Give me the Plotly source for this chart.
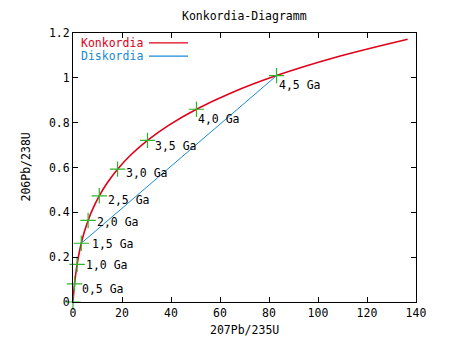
import plotly.graph_objects as go

# Concordia curve (207Pb/235U, 206Pb/238U), read at 0.25 Ga steps from 0 to 5.0 Ga
konk_x = [0.0, 0.279, 0.636, 1.093, 1.677, 2.425, 3.381, 4.604, 6.168, 8.170,
          10.73, 14.01, 18.19, 23.55, 30.41, 39.17, 50.39, 64.73, 83.09, 106.56, 136.59]
konk_y = [0.0, 0.0395, 0.0807, 0.1234, 0.1678, 0.2140, 0.2620, 0.3119, 0.3638, 0.4177,
          0.4737, 0.5320, 0.5926, 0.6556, 0.7211, 0.7892, 0.8599, 0.9335, 1.0099, 1.0894, 1.1719]

# Marked ages (every 0.5 Ga)
age_x = [0.0, 0.636, 1.677, 3.381, 6.168, 10.73, 18.19, 30.41, 50.39, 83.09]
age_y = [0.0, 0.0807, 0.1678, 0.2620, 0.3638, 0.4737, 0.5926, 0.7211, 0.8599, 1.0099]
age_labels = ["", "0,5 Ga", "1,0 Ga", "1,5 Ga", "2,0 Ga", "2,5 Ga", "3,0 Ga", "3,5 Ga", "4,0 Ga", "4,5 Ga"]

# Discordia line (from 1.5 Ga to 4.5 Ga)
disk_x = [3.381, 83.09]
disk_y = [0.2620, 1.0099]

x_ticks = [0, 20, 40, 60, 80, 100, 120, 140]
y_ticks = [0, 0.2, 0.4, 0.6, 0.8, 1.0, 1.2]
y_tick_text = ["0", "0.2", "0.4", "0.6", "0.8", "1", "1.2"]

# label anchor positions (data coords)
label_pos_x = [None, 2.69, 4.6, 7.05, 8.96, 13.45, 20.9, 32.6, 50.2, 83.3]
label_pos_y = [None, 0.058, 0.167, 0.258, 0.359, 0.457, 0.577, 0.697, 0.816, 0.970]

RED = "#e0001a"
BLUE = "#1a8ad4"
GREEN = "#2db52d"
FONT = "DejaVu Sans Mono"
FS = 11.5

L, R, T, B = 73, 38, 33, 39
W, H = 454, 341
pw, ph = W - L - R, H - T - B


def px(xp):
    return (xp - L) / pw


def py(yp):
    return (H - B - yp) / ph


fig = go.Figure()
fig.add_trace(go.Scatter(x=konk_x, y=konk_y, mode="lines",
                         line=dict(color=RED, width=1.6, shape="spline"), showlegend=False))
fig.add_trace(go.Scatter(x=disk_x, y=disk_y, mode="lines",
                         line=dict(color=BLUE, width=1), showlegend=False))
fig.add_trace(go.Scatter(x=age_x, y=age_y, mode="markers", cliponaxis=False,
                         marker=dict(symbol="cross-thin", size=11,
                                     line=dict(color=GREEN, width=1.2)),
                         showlegend=False))

annotations = []
for lx, ly, t in zip(label_pos_x, label_pos_y, age_labels):
    if not t:
        continue
    annotations.append(dict(x=lx, y=ly, xref="x", yref="y", text=t, showarrow=False,
                            xanchor="left", yanchor="middle",
                            font=dict(family=FONT, size=FS, color="black")))

txtfont = dict(family=FONT, size=FS, color="black")
annotations.append(dict(x=0.5, y=py(16), xref="paper", yref="paper", text="Konkordia-Diagramm",
                        showarrow=False, yanchor="middle", font=txtfont))
annotations.append(dict(x=0.5, y=py(329.5), xref="paper", yref="paper", text="207Pb/235U",
                        showarrow=False, yanchor="middle", font=txtfont))
annotations.append(dict(x=px(25), y=0.5, xref="paper", yref="paper", text="206Pb/238U",
                        showarrow=False, xanchor="center", yanchor="middle", textangle=-90,
                        font=txtfont))

# legend (gnuplot style: text then line sample)
legend_rows = [("Konkordia", RED, 42.8), ("Diskordia", BLUE, 56.2)]
shapes = []
for txt, col, yy in legend_rows:
    annotations.append(dict(x=px(79), y=py(yy), xref="paper", yref="paper", text=txt,
                            showarrow=False, xanchor="left", yanchor="middle",
                            font=dict(family=FONT, size=FS, color=col)))
    shapes.append(dict(type="line", xref="paper", yref="paper", x0=px(149), x1=px(188),
                       y0=py(yy), y1=py(yy), line=dict(color=col, width=1.2)))

axis_common = dict(showgrid=False, zeroline=False, showline=True, linecolor="black", linewidth=1,
                   mirror="ticks", ticks="inside", ticklen=5, tickcolor="black", tickwidth=1,
                   automargin=False,
                   tickfont=dict(family=FONT, size=FS, color="black"))

fig.update_layout(
    width=W, height=H,
    margin=dict(l=L, r=R, t=T, b=B),
    paper_bgcolor="white", plot_bgcolor="white",
    xaxis=dict(range=[0, 140], tickvals=x_ticks, ticktext=[str(v) for v in x_ticks],
               **axis_common),
    yaxis=dict(range=[0, 1.2], tickvals=y_ticks, ticktext=y_tick_text,
               **axis_common),
    annotations=annotations, shapes=shapes,
)

fig.write_html("out.html")
